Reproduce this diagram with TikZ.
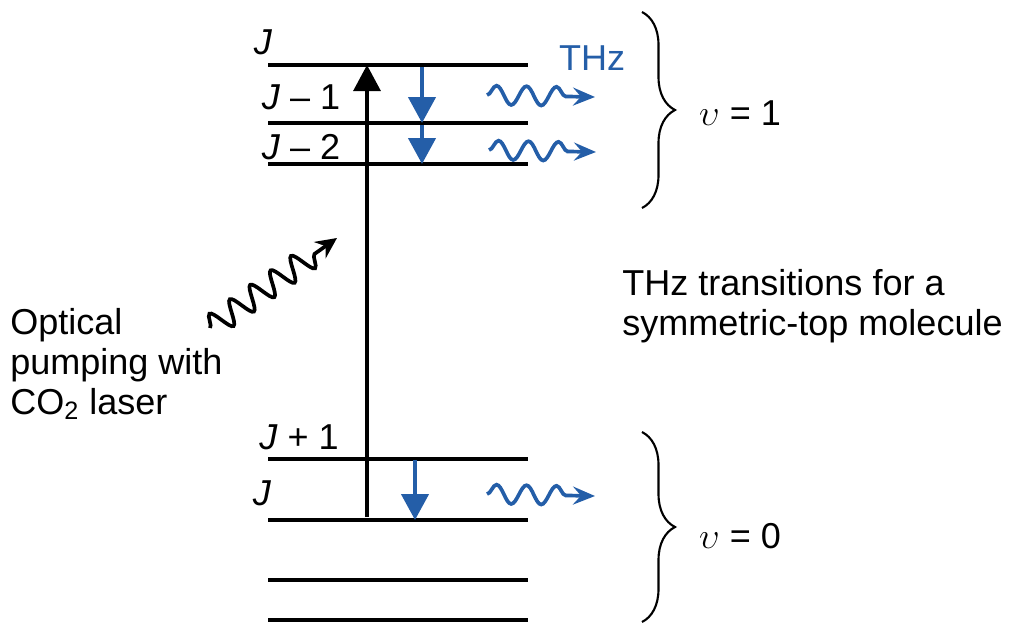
\documentclass[tikz,border=0pt]{standalone}
\usepackage{fontspec}
\setmainfont{Liberation Sans}
\usetikzlibrary{arrows.meta,decorations.pathmorphing,decorations.pathreplacing}
\definecolor{thzblue}{RGB}{36,94,168}
\begin{document}
\begin{tikzpicture}[x=0.02cm,y=-0.02cm,
  font=\fontsize{20.5}{22.7}\selectfont,
  level/.style={line width=1.8pt},
  pump/.style={line width=1.8pt,-{Triangle[width=0.54cm,length=0.52cm]}},
  decay/.style={thzblue,line width=2.5pt,-{Triangle[width=0.54cm,length=0.52cm]}},
  thzwave/.style={thzblue,line width=2.1pt,-{Stealth[length=0.44cm,width=0.36cm,inset=0.16cm]},
    decorate,decoration={snake,segment length=0.6cm,amplitude=0.19cm,post length=0.3cm}},
  pumpwave/.style={line width=2.1pt,-{Stealth[length=0.42cm,width=0.4cm,inset=0.14cm]},
    decorate,decoration={snake,segment length=0.5cm,amplitude=0.24cm,post length=0.3cm}},
  vbrace/.style={line width=1.2pt,decorate,decoration={brace,amplitude=0.66cm}},
  lbl/.style={inner sep=0pt}]
\useasboundingbox (0,0) rectangle (1013,630);
% level end points
\foreach \n/\y in {a/65,b/123,c/164,d/459,e/520,f/580,g/620}{
  \coordinate (\n L) at (268,\y);
  \coordinate (\n R) at (528,\y);
  \draw[level] (\n L) -- (\n R);
}
% pumping arrow
\coordinate (pumpS) at (367,517);
\coordinate (pumpE) at (367,65);
\draw[pump] (pumpS) -- (pumpE);
% decay arrows
\coordinate (d1s) at (422,67);  \coordinate (d1e) at (422,123);
\coordinate (d2s) at (422,125); \coordinate (d2e) at (422,164);
\coordinate (d3s) at (415,460); \coordinate (d3e) at (415,520);
\draw[decay] (d1s) -- (d1e);
\draw[decay] (d2s) -- (d2e);
\draw[decay] (d3s) -- (d3e);
% THz waves
\coordinate (w1s) at (487,95);  \coordinate (w1e) at (595,97);
\coordinate (w2s) at (489,150); \coordinate (w2e) at (596,152);
\coordinate (w3s) at (487,494); \coordinate (w3e) at (595,496);
\draw[thzwave] (w1s) -- (w1e);
\draw[thzwave] (w2s) -- (w2e);
\draw[thzwave] (w3s) -- (w3e);
% pump wave
\coordinate (pws) at (210,328);
\coordinate (pwe) at (337,238);
\draw[pumpwave] (pws) -- (pwe);
% braces
\coordinate (b1t) at (642,12);  \coordinate (b1b) at (642,208);
\coordinate (b0t) at (642,432); \coordinate (b0b) at (642,622);
\draw[vbrace] (b1t) -- (b1b);
\draw[vbrace] (b0t) -- (b0b);
% labels
\node[lbl] (lJ) at (263,42) {\textit{J}};
\node[lbl] (lJm1) at (301,97) {\textit{J} – 1};
\node[lbl] (lJm2) at (301,147) {\textit{J} – 2};
\node[lbl] (lJp1) at (299,437) {\textit{J} + 1};
\node[lbl] (lJ0) at (262,493) {\textit{J}};
\node[lbl,text=thzblue] (lTHz) at (592,58) {THz};
\node[lbl] (v1) at (740,113) {$\upsilon$ = 1};
\node[lbl] (v0) at (740,536) {$\upsilon$ = 0};
\node[lbl,anchor=west,align=left] (trans) at (622,306) {THz transitions for a\\symmetric-top molecule};
\node[lbl,anchor=west,align=left] (optic) at (10,364) {Optical\\pumping with\\CO\textsubscript{2} laser};
\end{tikzpicture}
\end{document}
